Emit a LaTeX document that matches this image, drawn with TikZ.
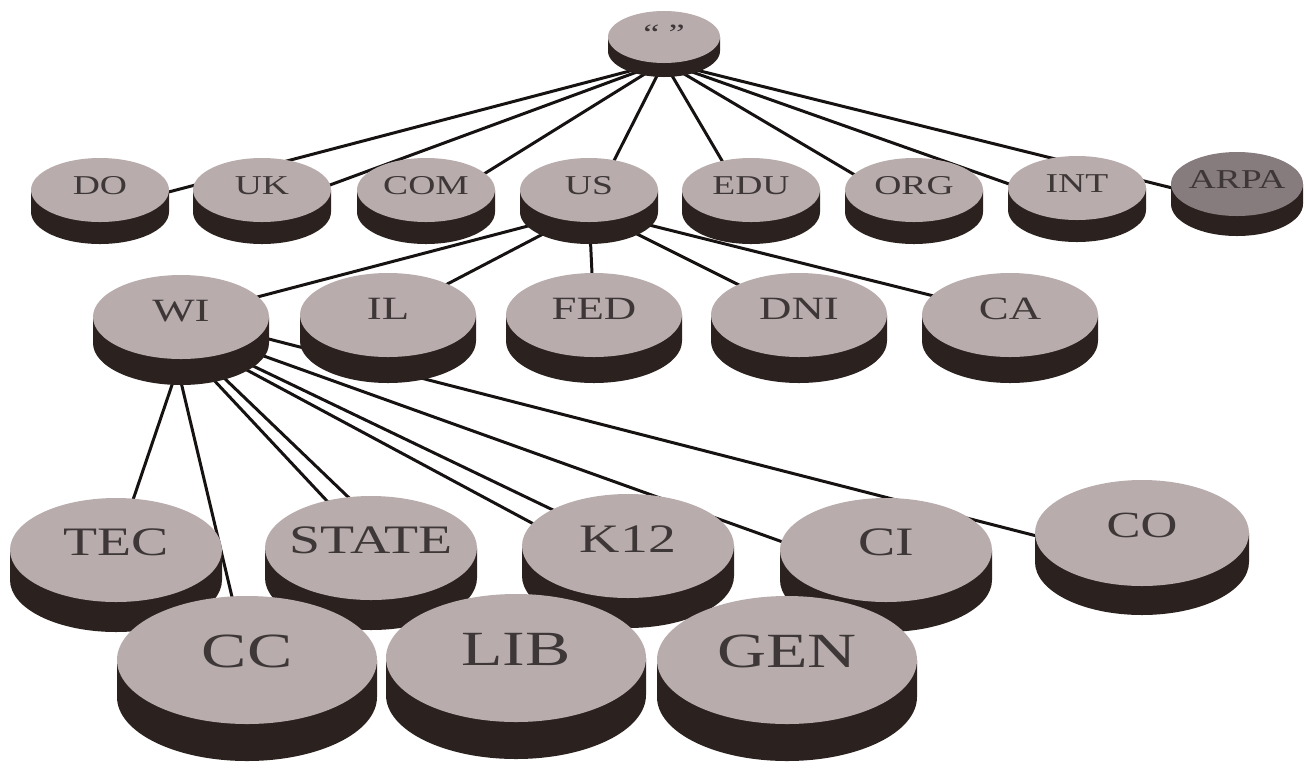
\documentclass[tikz,border=0pt]{standalone}
\usepackage{fontspec}
\setmainfont{Liberation Serif}
\usetikzlibrary{calc}

\definecolor{disktop}{RGB}{184,172,173}
\definecolor{arpatop}{RGB}{134,123,125}
\definecolor{diskside}{RGB}{43,34,31}
\definecolor{disktext}{RGB}{62,55,55}
\definecolor{linkcol}{RGB}{22,18,17}
\newcommand{\px}{0.02cm}
% \disk[top colour]{name}{rx}{ry}{height}{font size}{label}
\newcommand{\disk}[7][disktop]{%
  \fill[diskside] ($(#2)+(-#3,0)$) -- ++(0,#5)
    arc[start angle=180, end angle=360, x radius=#3*\px, y radius=#4*\px]
    -- ++(0,-#5) -- cycle;
  \fill[#1] (#2) ellipse [x radius=#3*\px, y radius=#4*\px];
  \node[disklabel, font=\fontsize{#6}{#6}\selectfont] (#2-text) at ($(#2)+(0,-0.14*#4)$) {#7};
}

\begin{document}
\begin{tikzpicture}[x=0.02cm, y=-0.02cm,
    disklabel/.style={text=disktext, inner sep=0pt, xscale=1.38},
    link/.style={line width=1.7pt, draw=linkcol, line cap=round}]
  \useasboundingbox (0,0) rectangle (1306,772);

  \coordinate (root) at (664,37);

  \coordinate (do)   at (100,190);
  \coordinate (uk)   at (262,190);
  \coordinate (com)  at (426,190);
  \coordinate (us)   at (589,190);
  \coordinate (edu)  at (751,190);
  \coordinate (org)  at (914,190);
  \coordinate (int)  at (1077,188);
  \coordinate (arpa) at (1237,184);

  \coordinate (wi)  at (181,317);
  \coordinate (il)  at (388,315);
  \coordinate (fed) at (594,315);
  \coordinate (dni) at (799,315);
  \coordinate (ca)  at (1010,315);

  \coordinate (tec)   at (116,550);
  \coordinate (state) at (371,548);
  \coordinate (k12)   at (628,546);
  \coordinate (ci)    at (886,550);
  \coordinate (co)    at (1142,533);

  \coordinate (cc)  at (247,660);
  \coordinate (lib) at (516,658);
  \coordinate (gen) at (787,660);

  % connectors, behind the disks
  \draw[link] ($(root)+(0,25)$) -- ($(do)+(0,20)$);
  \draw[link] ($(root)+(0,25)$) -- ($(uk)+(0,20)$);
  \draw[link] ($(root)+(0,25)$) -- ($(com)+(0,20)$);
  \draw[link] ($(root)+(0,25)$) -- ($(us)+(0,20)$);
  \draw[link] ($(root)+(0,25)$) -- ($(edu)+(0,20)$);
  \draw[link] ($(root)+(0,25)$) -- ($(org)+(0,20)$);
  \draw[link] ($(root)+(0,25)$) -- ($(int)+(0,20)$);
  \draw[link] ($(root)+(0,25)$) -- ($(arpa)+(0,20)$);

  \draw[link] ($(us)+(0,20)$) -- (wi);
  \draw[link] ($(us)+(0,20)$) -- (il);
  \draw[link] ($(us)+(0,20)$) -- (fed);
  \draw[link] ($(us)+(0,20)$) -- (dni);
  \draw[link] ($(us)+(0,20)$) -- (ca);

  \draw[link] ($(wi)+(-8,65)$) -- (tec);
  \draw[link] ($(wi)+(0,65)$)  -- (cc);
  \draw[link] ($(wi)+(30,60)$) -- (state);
  \draw[link] ($(wi)+(40,58)$) -- (lib);
  \draw[link] ($(wi)+(70,48)$) -- (k12);
  \draw[link] ($(wi)+(64,52)$) -- (gen);
  \draw[link] ($(wi)+(80,38)$) -- ($(ci)+(0,29)$);
  \draw[link] ($(wi)+(80,20)$) -- ($(co)+(0,30)$);

  \disk{root}{56}{26}{14}{15}{“ ”}

  \disk{do}{69}{32}{22}{15.5}{DO}
  \disk{uk}{69}{32}{22}{15.5}{UK}
  \disk{com}{69}{32}{22}{15.5}{COM}
  \disk{us}{69}{32}{22}{15.5}{US}
  \disk{edu}{69}{32}{22}{15.5}{EDU}
  \disk{org}{69}{32}{22}{15.5}{ORG}
  \disk{int}{69}{32}{22}{15.5}{INT}
  \disk[arpatop]{arpa}{66}{32}{20}{15.5}{ARPA}

  \disk{wi}{88}{42}{26}{18.5}{WI}
  \disk{il}{88}{42}{26}{18.5}{IL}
  \disk{fed}{88}{42}{26}{18.5}{FED}
  \disk{dni}{88}{42}{26}{18.5}{DNI}
  \disk{ca}{88}{42}{26}{18.5}{CA}

  \disk{tec}{106}{52}{30}{23}{TEC}
  \disk{state}{106}{52}{30}{23}{STATE}
  \disk{k12}{106}{52}{30}{23}{K12}
  \disk{ci}{106}{52}{30}{23}{CI}
  \disk{co}{107}{53}{29}{21}{CO}

  \disk{cc}{130}{64}{37}{28}{CC}
  \disk{lib}{130}{64}{37}{28}{LIB}
  \disk{gen}{130}{64}{37}{28}{GEN}
\end{tikzpicture}
\end{document}
